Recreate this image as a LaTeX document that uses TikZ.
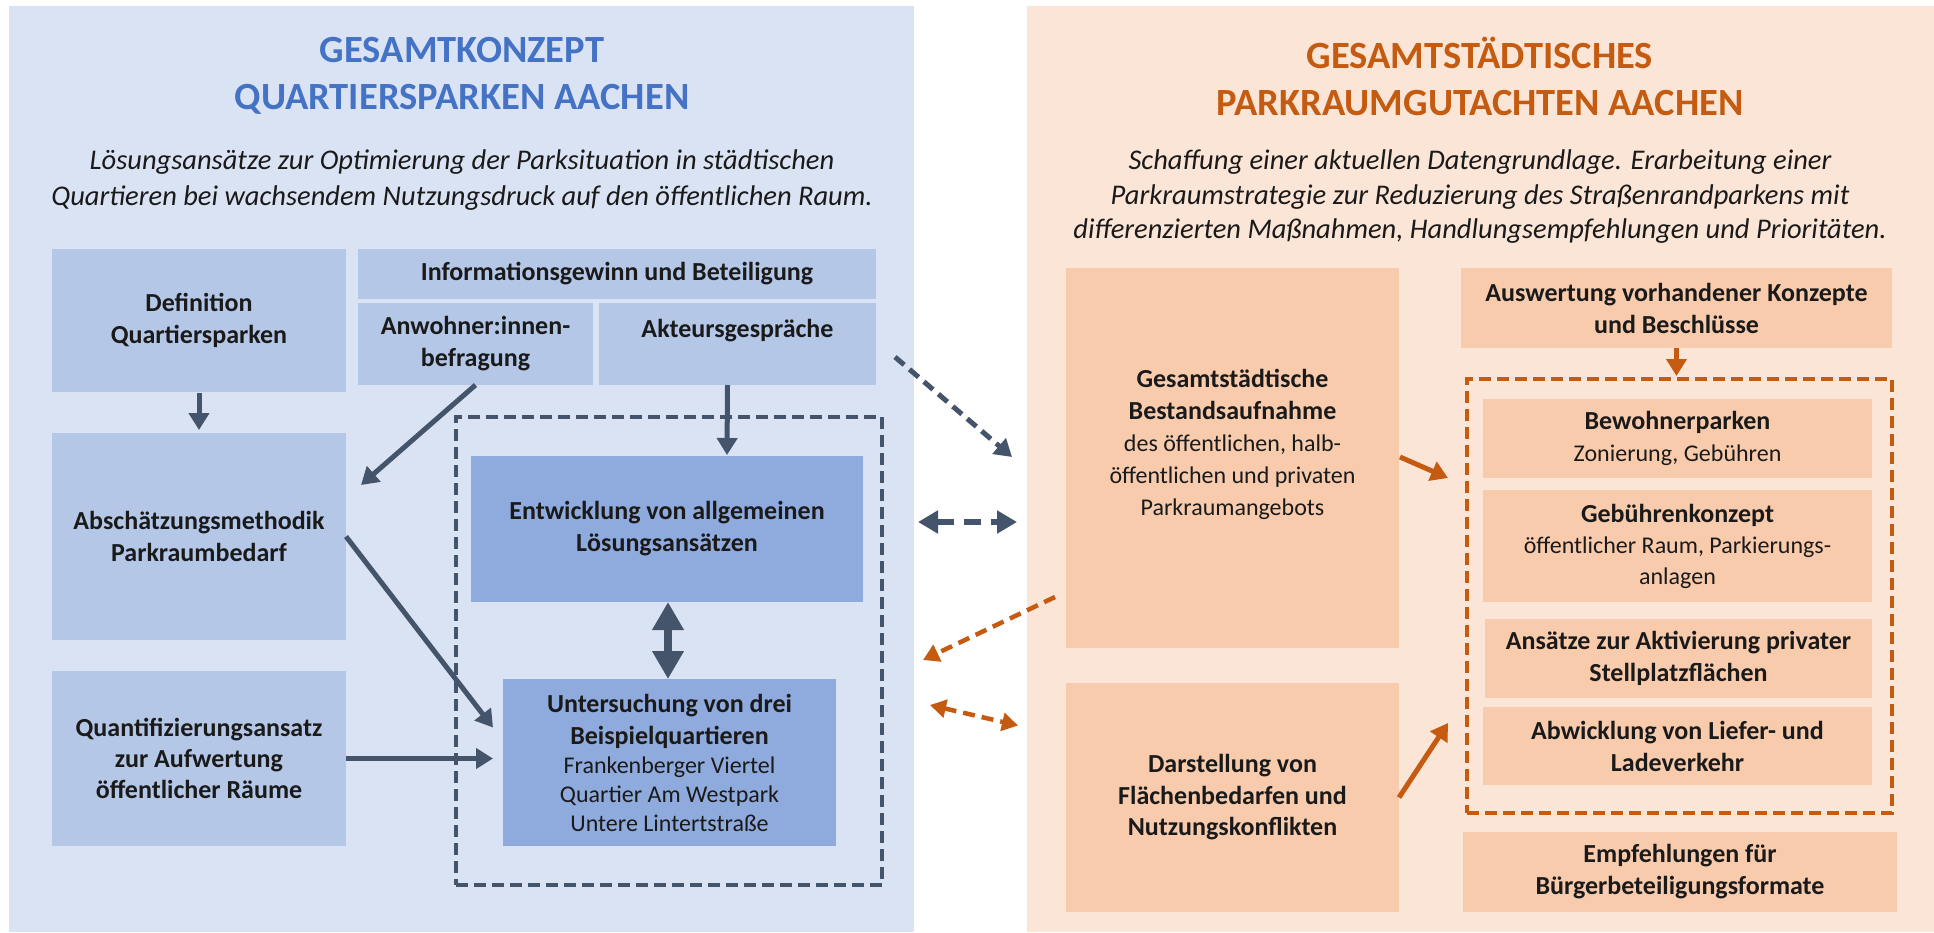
\documentclass[tikz,border=0pt]{standalone}
\usepackage{fontspec}
\setmainfont{Carlito}
\usetikzlibrary{arrows.meta,calc}
\definecolor{panelL}{HTML}{DAE3F3}
\definecolor{boxL}{HTML}{B4C7E7}
\definecolor{boxLd}{HTML}{8FAADC}
\definecolor{panelR}{HTML}{FBE5D6}
\definecolor{boxR}{HTML}{F8CBAD}
\definecolor{tblue}{HTML}{4472C4}
\definecolor{torange}{HTML}{C55A11}
\definecolor{adark}{HTML}{44546A}
\definecolor{txt}{HTML}{1A1A1A}
\newcommand\boldline[1]{{\fontsize{26}{32}\selectfont\bfseries #1}}
\tikzset{
  panelbox/.style={anchor=north west, inner sep=0pt, outer sep=0pt, draw=none},
  cbox/.style={inner sep=0pt, outer sep=0pt, draw=none, align=center, text=txt,
    font=\fontsize{26}{32}\selectfont\bfseries},
  mbox/.style={cbox, font=\fontsize{24}{32}\selectfont},
  titletext/.style={align=center, font=\fontsize{38.5}{47}\selectfont\bfseries, inner sep=0pt},
  subtext/.style={align=center, font=\fontsize{28.5}{36}\selectfont\itshape, text=txt, inner sep=0pt},
  darrow/.style={draw=adark, line width=5pt, -{Triangle[length=17pt,width=20pt]}},
  darrowd/.style={draw=adark, line width=5pt, dash pattern=on 12pt off 7pt, -{Triangle[length=17pt,width=20pt]}},
  oarrow/.style={draw=torange, line width=5pt, -{Triangle[length=17pt,width=20pt]}},
  oarrowd/.style={draw=torange, line width=4.5pt, dash pattern=on 12pt off 7pt, -{Triangle[length=16pt,width=18pt]}},
  dashframe/.style={inner sep=0pt, outer sep=0pt, fill=none, line width=4pt, dash pattern=on 12pt off 6pt},
}
\begin{document}
\begin{tikzpicture}[x=1pt,y=-1pt]
\useasboundingbox (0,0) rectangle (1934,932);
\fill[white] (0,0) rectangle (1934,932);
% panels
\node[panelbox, fill=panelL, minimum width=905pt, minimum height=926pt] (pL) at (9,6) {};
\node[panelbox, fill=panelR, minimum width=907pt, minimum height=926pt] (pR) at (1027,6) {};
% titles
\node[titletext, text=tblue] (tL) at (462,76) {GESAMTKONZEPT\\QUARTIERSPARKEN AACHEN};
\node[titletext, text=torange] (tR) at (1480,76) {GESAMTSTÄDTISCHES\\PARKRAUMGUTACHTEN AACHEN};
\node[subtext] (sL) at (462,180) {Lösungsansätze zur Optimierung der Parksituation in städtischen\\Quartieren bei wachsendem Nutzungsdruck auf den öffentlichen Raum.};
\node[subtext, font=\fontsize{28.5}{34.5}\selectfont\itshape] (sR) at (1480,197) {Schaffung einer aktuellen Datengrundlage. Erarbeitung einer\\Parkraumstrategie zur Reduzierung des Straßenrandparkens mit\\differenzierten Maßnahmen, Handlungsempfehlungen und Prioritäten.};
% dashed frames
\node[dashframe, draw=adark, minimum width=426pt, minimum height=468pt] (dashL) at (669,651) {};
\node[dashframe, draw=torange, minimum width=425pt, minimum height=434pt] (dashR) at (1679.5,596) {};
% left boxes
\node[cbox, fill=boxL, minimum width=294pt, minimum height=143pt] (def) at (199,320.5) {Definition\\Quartiersparken};
\node[cbox, fill=boxL, minimum width=518pt, minimum height=50pt] (info) at (617,274) {Informationsgewinn und Beteiligung};
\node[cbox, fill=boxL, minimum width=235pt, minimum height=82pt] (anw) at (475.5,344) {Anwohner:innen-\\befragung};
\node[cbox, fill=boxL, minimum width=277pt, minimum height=82pt] (akt) at (737.5,344) {Akteursgespräche\\\mbox{}};
\node[cbox, fill=boxL, minimum width=294pt, minimum height=207pt] (absch) at (199,536.5) {Abschätzungsmethodik\\Parkraumbedarf};
\node[cbox, fill=boxL, minimum width=294pt, minimum height=175pt, font=\fontsize{26}{31}\selectfont\bfseries] (quant) at (199,758.5) {Quantifizierungsansatz\\zur Aufwertung\\öffentlicher Räume};
\node[cbox, fill=boxLd, minimum width=392pt, minimum height=146pt] (entw) at (667,529) {Entwicklung von allgemeinen\\Lösungsansätzen};
\node[mbox, fill=boxLd, minimum width=333pt, minimum height=167pt, font=\fontsize{24}{29}\selectfont] (unters) at (669.5,762.5) {\boldline{Untersuchung von drei}\\[3pt]\boldline{Beispielquartieren}\\Frankenberger Viertel\\Quartier Am Westpark\\Untere Lintertstraße};
% right boxes
\node[mbox, fill=boxR, minimum width=333pt, minimum height=380pt] (gesamt) at (1232.5,458) {\boldline{Gesamtstädtische}\\\boldline{Bestandsaufnahme}\\des öffentlichen, halb-\\öffentlichen und privaten\\Parkraumangebots\\\mbox{}};
\node[cbox, fill=boxR, minimum width=333pt, minimum height=229pt, font=\fontsize{26}{31.5}\selectfont\bfseries] (darst) at (1232.5,797.5) {Darstellung von\\Flächenbedarfen und\\Nutzungskonflikten};
\node[cbox, fill=boxR, minimum width=431pt, minimum height=80pt] (ausw) at (1676.5,308) {Auswertung vorhandener Konzepte\\und Beschlüsse};
\node[mbox, fill=boxR, minimum width=389pt, minimum height=79pt] (bewo) at (1677.5,438.5) {\boldline{Bewohnerparken}\\Zonierung, Gebühren};
\node[mbox, fill=boxR, minimum width=389pt, minimum height=112pt, font=\fontsize{24}{31}\selectfont] (gebu) at (1677.5,546) {\boldline{Gebührenkonzept}\\öffentlicher Raum, Parkierungs-\\anlagen};
\node[cbox, fill=boxR, minimum width=387pt, minimum height=79pt] (ansa) at (1678.5,658.5) {Ansätze zur Aktivierung privater\\Stellplatzflächen};
\node[cbox, fill=boxR, minimum width=389pt, minimum height=78pt] (abwi) at (1677.5,746) {Abwicklung von Liefer- und\\Ladeverkehr};
\node[cbox, fill=boxR, minimum width=434pt, minimum height=80pt] (empf) at (1680,872) {Empfehlungen für\\Bürgerbeteiligungsformate};
% left arrows
\draw[darrow, shorten <=1pt, shorten >=3pt] (def.south) -- (def.south |- absch.north);
\draw[darrow] (anw.south) -- ($(absch.north east)+(15,52)$);
\draw[darrow, shorten >=1pt] ($(akt.south)+(-10,0)$) -- ($(entw.north)+(60,0)$);
\draw[darrow] (absch.east) -- ($(unters.west)+(-10,-35)$);
\draw[darrow, shorten >=10pt] (quant.east) -- (quant.east -| unters.west);
\coordinate (eb) at ($(entw.south)+(1,0)$);
\draw[draw=adark, line width=8pt, {Triangle[length=28pt,width=30pt]}-{Triangle[length=28pt,width=30pt]}] (eb) -- (eb |- unters.north);
% cross arrows
\draw[darrowd] ($(akt.east)+(19,13)$) -- ($(gesamt.west)+(-54,-1)$);
\draw[draw=adark, line width=6pt, dash pattern=on 17pt off 10pt, {Triangle[length=20pt,width=22pt]}-{Triangle[length=20pt,width=22pt]}] ($(entw.east)+(55,-7)$) -- ($(gesamt.west)+(-49,64)$);
\draw[oarrowd] ($(gesamt.west)+(-11,139)$) -- ($(dashL.east)+(41,9)$);
\draw[draw=torange, line width=4.5pt, dash pattern=on 12pt off 7pt, {Triangle[length=16pt,width=18pt]}-{Triangle[length=16pt,width=18pt]}] ($(dashL.east)+(48,54)$) -- ($(darst.west)+(-48,-72)$);
% right arrows
\draw[oarrow, shorten >=3pt] (ausw.south) -- (ausw.south |- dashR.north);
\draw[oarrow] ($(gesamt.east)+(1,-1)$) -- ($(dashR.north west)+(-19,99)$);
\draw[oarrow] (darst.east) -- ($(dashR.north west)+(-19,344)$);
\end{tikzpicture}
\end{document}
